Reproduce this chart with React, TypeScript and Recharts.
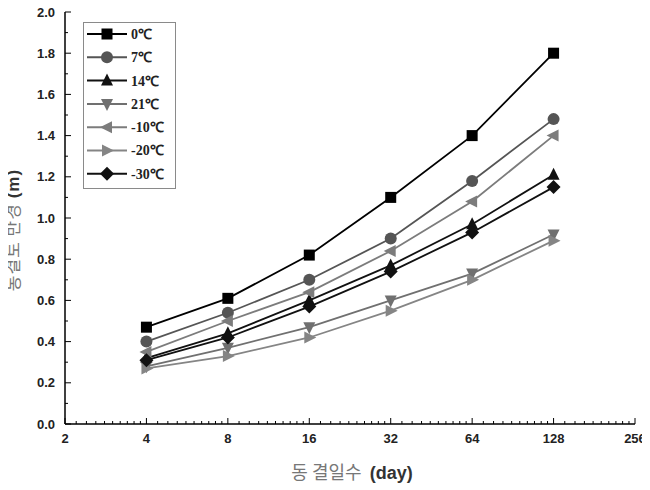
import React from 'react';
import { Line, LineChart, XAxis, YAxis, Legend } from 'recharts';

// freezing days (x, log2 axis) and frozen-soil radius (m) per temperature
const DAYS = [4, 8, 16, 32, 64, 128];
const T0 = [0.47, 0.61, 0.82, 1.1, 1.4, 1.8];
const T7 = [0.4, 0.54, 0.7, 0.9, 1.18, 1.48];
const T14 = [0.32, 0.44, 0.6, 0.77, 0.97, 1.21];
const T21 = [0.28, 0.37, 0.47, 0.6, 0.73, 0.92];
const TM10 = [0.35, 0.5, 0.64, 0.84, 1.08, 1.4];
const TM20 = [0.27, 0.33, 0.42, 0.55, 0.7, 0.89];
const TM30 = [0.31, 0.42, 0.57, 0.74, 0.93, 1.15];

const X_MAJOR = [2, 4, 8, 16, 32, 64, 128, 256];
const Y_MAJOR = [0, 0.2, 0.4, 0.6, 0.8, 1.0, 1.2, 1.4, 1.6, 1.8, 2.0];

type Shape = 'square' | 'circle' | 'up' | 'down' | 'left' | 'right' | 'diamond';

const SERIES: { key: string; name: string; values: number[]; color: string; shape: Shape }[] = [
  { key: 't0', name: '0℃', values: T0, color: '#000000', shape: 'square' },
  { key: 't7', name: '7℃', values: T7, color: '#555555', shape: 'circle' },
  { key: 't14', name: '14℃', values: T14, color: '#111111', shape: 'up' },
  { key: 't21', name: '21℃', values: T21, color: '#707070', shape: 'down' },
  { key: 'tm10', name: '-10℃', values: TM10, color: '#7c7c7c', shape: 'left' },
  { key: 'tm20', name: '-20℃', values: TM20, color: '#858585', shape: 'right' },
  { key: 'tm30', name: '-30℃', values: TM30, color: '#111111', shape: 'diamond' },
];

const data = DAYS.map((d, i) => {
  const row: Record<string, number> = { day: d };
  SERIES.forEach((s) => (row[s.key] = s.values[i]));
  return row;
});

// minor ticks like Origin: 9 linear steps inside each octave
const xTicks: number[] = [];
X_MAJOR.slice(0, -1).forEach((a) => {
  xTicks.push(a);
  for (let k = 1; k <= 9; k++) xTicks.push(+(a * (1 + 0.1 * k)).toFixed(3));
});
xTicks.push(256);
const yTicks = Array.from({ length: 21 }, (_, i) => i / 10);

const isMajorX = (v: number) => X_MAJOR.includes(v);
const isMajorY = (v: number) => Y_MAJOR.some((m) => Math.abs(m - v) < 1e-6);

const TICK_FONT = { fontFamily: 'Liberation Sans, Arial, sans-serif', fontWeight: 700, fontSize: 13, fill: '#222' };

function Marker({ cx, cy, shape, color }: { cx: number; cy: number; shape: Shape; color: string }) {
  const s = 6;
  switch (shape) {
    case 'square':
      return <rect x={cx - 5.5} y={cy - 5.5} width={11} height={11} fill={color} />;
    case 'circle':
      return <circle cx={cx} cy={cy} r={6} fill={color} />;
    case 'up':
      return <polygon points={`${cx},${cy - 7} ${cx - s},${cy + 5} ${cx + s},${cy + 5}`} fill={color} />;
    case 'down':
      return <polygon points={`${cx},${cy + 7} ${cx - s},${cy - 5} ${cx + s},${cy - 5}`} fill={color} />;
    case 'left':
      return <polygon points={`${cx - 7},${cy} ${cx + 5},${cy - s} ${cx + 5},${cy + s}`} fill={color} />;
    case 'right':
      return <polygon points={`${cx + 7},${cy} ${cx - 5},${cy - s} ${cx - 5},${cy + s}`} fill={color} />;
    default:
      return <polygon points={`${cx},${cy - 7} ${cx + 7},${cy} ${cx},${cy + 7} ${cx - 7},${cy}`} fill={color} />;
  }
}

const BottomTick = (p: any) => {
  const major = isMajorX(p.payload.value);
  const ay = p.y - 8;
  return (
    <g>
      <line x1={p.x} x2={p.x} y1={ay} y2={ay - (major ? 6 : 3)} stroke="#000" />
      {major && (
        <text x={p.x} y={p.y} dy="0.85em" textAnchor="middle" {...TICK_FONT}>
          {p.payload.value}
        </text>
      )}
    </g>
  );
};

const TopTick = (p: any) => {
  const major = isMajorX(p.payload.value);
  return <line x1={p.x} x2={p.x} y1={p.y} y2={p.y + (major ? 6 : 3)} stroke="#000" />;
};

const LeftTick = (p: any) => {
  const major = isMajorY(p.payload.value);
  const ax = p.x + 10;
  return (
    <g>
      <line x1={ax} x2={ax + (major ? 6 : 3)} y1={p.y} y2={p.y} stroke="#000" />
      {major && (
        <text x={p.x} y={p.y} dy="0.35em" textAnchor="end" {...TICK_FONT}>
          {p.payload.value.toFixed(1)}
        </text>
      )}
    </g>
  );
};

const RightTick = (p: any) => {
  const major = isMajorY(p.payload.value);
  return <line x1={p.x} x2={p.x - (major ? 6 : 3)} y1={p.y} y2={p.y} stroke="#000" />;
};

const LegendBox = () => (
  <svg width={94} height={168} style={{ display: 'block' }}>
    <rect x={0.5} y={0.5} width={92} height={166} fill="#fff" stroke="#8a8a8a" />
    {SERIES.map((s, i) => {
      const y = 12 + i * 23.3;
      return (
        <g key={s.key}>
          <line x1={4} x2={44} y1={y} y2={y} stroke={s.color} strokeWidth={2} />
          <Marker cx={24} cy={y} shape={s.shape} color={s.color} />
          <text
            x={48}
            y={y}
            dy="0.35em"
            fontFamily="Liberation Serif, Times New Roman, serif"
            fontWeight={700}
            fontSize={14}
            fill="#222"
          >
            {s.name}
          </text>
        </g>
      );
    })}
  </svg>
);

export default function App() {
  return (
    <div style={{ position: 'relative', top: -6, width: 642, height: 480 }}>
      <LineChart width={642} height={480} data={data} margin={{ top: 10, right: 15, bottom: 28, left: 0 }}>
        <XAxis
          xAxisId="b"
          dataKey="day"
          type="number"
          scale="log"
          domain={[2, 256]}
          ticks={xTicks}
          interval={0}
          tickSize={0}
          tickMargin={8}
          tickLine={false}
          tick={BottomTick}
          height={30}
          axisLine={{ stroke: '#000', strokeWidth: 1.5 }}
          allowDataOverflow
        />
        <XAxis
          xAxisId="t"
          orientation="top"
          dataKey="day"
          type="number"
          scale="log"
          domain={[2, 256]}
          ticks={xTicks}
          interval={0}
          tickSize={0}
          tickMargin={0}
          tickLine={false}
          tick={TopTick}
          height={0}
          axisLine={{ stroke: '#000', strokeWidth: 1.5 }}
          allowDataOverflow
        />
        <YAxis
          yAxisId="l"
          type="number"
          domain={[0, 2]}
          ticks={yTicks}
          interval={0}
          tickSize={0}
          tickMargin={10}
          tickLine={false}
          tick={LeftTick}
          width={57}
          axisLine={{ stroke: '#000', strokeWidth: 1.5 }}
          allowDataOverflow
        />
        <YAxis
          yAxisId="r"
          orientation="right"
          type="number"
          domain={[0, 2]}
          ticks={yTicks}
          interval={0}
          tickSize={0}
          tickMargin={0}
          tickLine={false}
          tick={RightTick}
          width={0}
          axisLine={{ stroke: '#000', strokeWidth: 1.5 }}
          allowDataOverflow
        />
        <Legend
          layout="vertical"
          align="center"
          verticalAlign="middle"
          content={LegendBox}
          wrapperStyle={{ position: 'absolute', left: 75, top: 20, width: 94, height: 168 }}
        />
        {SERIES.map((s) => (
          <Line
            key={s.key}
            xAxisId="b"
            yAxisId="l"
            dataKey={s.key}
            name={s.name}
            stroke={s.color}
            strokeWidth={1.8}
            isAnimationActive={false}
            dot={(d: any) => <Marker key={`${s.key}-${d.index}`} cx={d.cx} cy={d.cy} shape={s.shape} color={s.color} />}
          />
        ))}
      </LineChart>
      <div
        style={{
          position: 'absolute',
          left: 5 - 90,
          top: 217,
          width: 180,
          textAlign: 'center',
          transform: 'rotate(-90deg)',
          fontFamily: 'Noto Sans CJK KR, sans-serif',
          fontSize: 17,
          color: '#777',
          lineHeight: '20px',
          letterSpacing: 1,
        }}
      >
        동결토 반경 <span style={{ fontFamily: 'Liberation Sans, Arial', fontWeight: 700, color: '#333' }}>(m)</span>
      </div>
      <div
        style={{
          position: 'absolute',
          left: 244,
          top: 458,
          width: 200,
          textAlign: 'center',
          fontFamily: 'Noto Sans CJK KR, sans-serif',
          fontSize: 18,
          lineHeight: '22px',
          color: '#777',
          whiteSpace: 'pre',
        }}
      >
        {'동 결일수  '}
        <span style={{ fontFamily: 'Liberation Sans, Arial', fontWeight: 700, color: '#333' }}>(day)</span>
      </div>
    </div>
  );
}
